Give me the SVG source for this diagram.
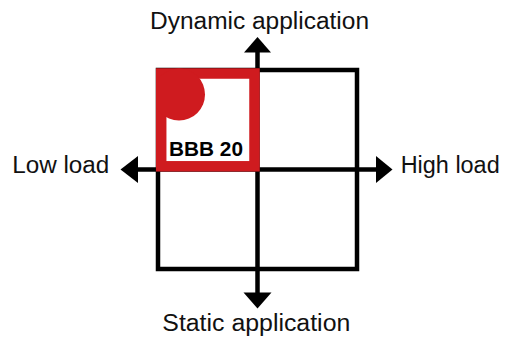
<svg xmlns="http://www.w3.org/2000/svg" width="506" height="340" viewBox="0 0 506 340">
  <style>
    .ln { stroke: #000; stroke-width: 4.5; fill: none; }
    .ah { fill: #000; stroke: none; }
    .lbl { font-family: "Liberation Sans", Arial, sans-serif; font-size: 23px; fill: #111; }
    .bbb { font-family: "Liberation Sans", Arial, sans-serif; font-size: 20px; font-weight: bold; fill: #000; }
  </style>
  <defs>
    <clipPath id="redclip">
      <rect x="156" y="68" width="104" height="103"/>
    </clipPath>
  </defs>
  <rect width="506" height="340" fill="#fff"/>
  <g id="grid">
    <rect class="ln" x="158" y="70" width="199" height="199"/>
  </g>
  <g id="connectors">
    <line class="ln" x1="257.5" y1="50" x2="257.5" y2="295"/>
    <line class="ln" x1="136" y1="169.5" x2="378" y2="169.5"/>
    <polygon class="ah" points="257.5,37 271,52.5 244,52.5"/>
    <polygon class="ah" points="257.5,308.5 271.5,292.5 243.5,292.5"/>
    <polygon class="ah" points="120.5,169.5 138,156 138,183"/>
    <polygon class="ah" points="392.5,169.5 376,156 376,183"/>
  </g>
  <g id="bbb20">
    <rect x="161.2" y="73.5" width="93.3" height="92.8" fill="#fff" stroke="#cf1b1f" stroke-width="10.5"/>
    <circle cx="179" cy="94.5" r="26" fill="#cf1b1f" clip-path="url(#redclip)"/>
    <text class="bbb" x="169" y="156" textLength="74" lengthAdjust="spacingAndGlyphs">BBB 20</text>
  </g>
  <g id="label-top"><text class="lbl" x="150" y="29" textLength="219" lengthAdjust="spacingAndGlyphs">Dynamic application</text></g>
  <g id="label-left"><text class="lbl" x="12.3" y="173" textLength="97" lengthAdjust="spacingAndGlyphs">Low load</text></g>
  <g id="label-right"><text class="lbl" x="400.7" y="173" textLength="99" lengthAdjust="spacingAndGlyphs">High load</text></g>
  <g id="label-bottom"><text class="lbl" x="162.3" y="331" textLength="188" lengthAdjust="spacingAndGlyphs">Static application</text></g>
</svg>
